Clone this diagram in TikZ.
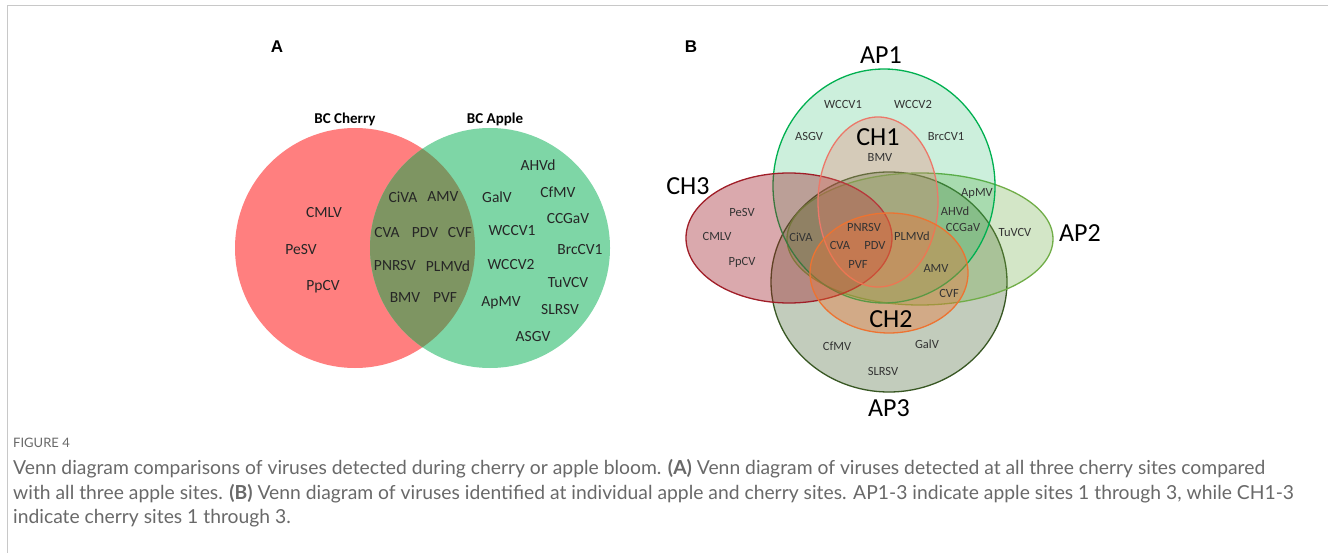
\documentclass[tikz,border=0pt]{standalone}
\usepackage{fontspec}
\setmainfont{Carlito}
\newfontfamily\capfont{Lato}
\newfontfamily\letterfont{Liberation Sans}
\usepackage{tikz}
\usetikzlibrary{positioning}
\definecolor{cherryred}{RGB}{255,127,127}
\definecolor{applegreen}{RGB}{126,214,166}
\definecolor{bothgreen}{RGB}{126,149,98}
\definecolor{apone}{RGB}{0,176,80}
\definecolor{aptwo}{RGB}{112,173,71}
\definecolor{apthree}{RGB}{56,87,35}
\definecolor{chone}{RGB}{236,120,105}
\definecolor{chtwo}{RGB}{237,115,49}
\definecolor{chthree}{RGB}{160,30,40}
\definecolor{captiongray}{RGB}{105,105,105}
\definecolor{framegray}{RGB}{200,200,200}

\begin{document}
\begin{tikzpicture}[x=1pt,y=-1pt,
    vname/.style={font=\fontsize{15.5}{18}\selectfont, text=black!85},
    vsmall/.style={font=\fontsize{12.5}{14}\selectfont, text=black!80},
    setname/.style={font=\bfseries\fontsize{15}{18}\selectfont},
    sitename/.style={font=\fontsize{26}{30}\selectfont},
    panel/.style={font=\letterfont\bfseries\fontsize{17}{20}\selectfont},
    captext/.style={font=\capfont\fontsize{19.3}{23}\selectfont, text=captiongray, anchor=west, inner sep=0pt},
    site/.style 2 args={draw=#1, fill=#1, fill opacity=#2, line width=1.3}]
    \useasboundingbox (0,0) rectangle (1328,553);
    \fill[white] (0,0) rectangle (1328,553);
    \draw[framegray, line width=1] (7,553) -- (7,6) -- (1328,6);

    % Panel A: two sets
    \node[panel] (lblA) at (277,47) {A};
    \fill[cherryred] (355,248) circle [radius=120];
    \fill[applegreen] (490,248) circle [radius=120];
    \begin{scope}
        \clip (355,248) circle [radius=120];
        \fill[bothgreen] (490,248) circle [radius=120];
    \end{scope}
    \node[setname] (cherry) at (345,119) {BC Cherry};
    \node[setname] (apple) at (495,119) {BC Apple};
    \foreach \v/\x/\y in {CMLV/324/213, PeSV/301/250, PpCV/323/287,
        CiVA/403/197, AMV/443/197, CVA/387/233, PDV/425/233, CVF/460/233,
        PNRSV/395/266, PLMVd/448/266, BMV/405/298, PVF/445/298,
        AHVd/538/165, CfMV/558/192, GalV/497/197, CCGaV/568/219,
        WCCV1/512/231, BrcCV1/580/250, WCCV2/511/265, TuVCV/568/283,
        ApMV/501/303, SLRSV/560/310, ASGV/533/337} {
        \node[vname] (a-\v) at (\x,\y) {\v};
    }

    % Panel B: individual sites
    \node[panel] (lblB) at (691,47) {B};
    \draw[site={apthree}{0.3}] (889,282) ellipse [x radius=118, y radius=110];
    \draw[site={aptwo}{0.3}] (920,239) ellipse [x radius=133, y radius=66];
    \draw[site={apone}{0.2}] (884,186) ellipse [x radius=111, y radius=117];
    \draw[site={chthree}{0.38}] (789,238) ellipse [x radius=103, y radius=65];
    \draw[site={chone}{0.3}] (878,202) ellipse [x radius=60, y radius=85];
    \draw[site={chtwo}{0.38}] (889,273) ellipse [x radius=79, y radius=60];

    \node[sitename] (ap1) at (881,55) {AP1};
    \node[sitename] (ch1) at (878,137) {CH1};
    \node[sitename] (ch3) at (688,186) {CH3};
    \node[sitename] (ap2) at (1080,233) {AP2};
    \node[sitename] (ch2) at (891,319) {CH2};
    \node[sitename] (ap3) at (889,408) {AP3};
    \foreach \v/\x/\y in {WCCV1/843/104, WCCV2/913/104, ASGV/809/136,
        BrcCV1/946/136, BMV/880/157, PeSV/742/212, ApMV/977/193,
        AHVd/955/211, CMLV/717/236, PpCV/742/262, CiVA/801/237,
        PNRSV/864/227, CVA/840/245, PDV/875/245, PVF/858/264,
        PLMVd/912/236, CCGaV/963/227, TuVCV/1015/232, AMV/936/268,
        CVF/949/293, CfMV/837/346, GalV/927/344, SLRSV/883/371} {
        \node[vsmall] (b-\v) at (\x,\y) {\v};
    }

    % Caption
    \node[captext, font=\capfont\fontsize{13}{16}\selectfont] (fig) at (13,443) {FIGURE 4};
    \node[captext] (cap1) at (13,469) {Venn diagram comparisons of viruses detected during cherry or apple bloom. \textbf{(A)} Venn diagram of viruses detected at all three cherry sites compared};
    \node[captext] (cap2) at (13,494) {with all three apple sites. \textbf{(B)} Venn diagram of viruses identified at individual apple and cherry sites. AP1-3 indicate apple sites 1 through 3, while CH1-3};
    \node[captext] (cap3) at (13,518) {indicate cherry sites 1 through 3.};
\end{tikzpicture}
\end{document}
